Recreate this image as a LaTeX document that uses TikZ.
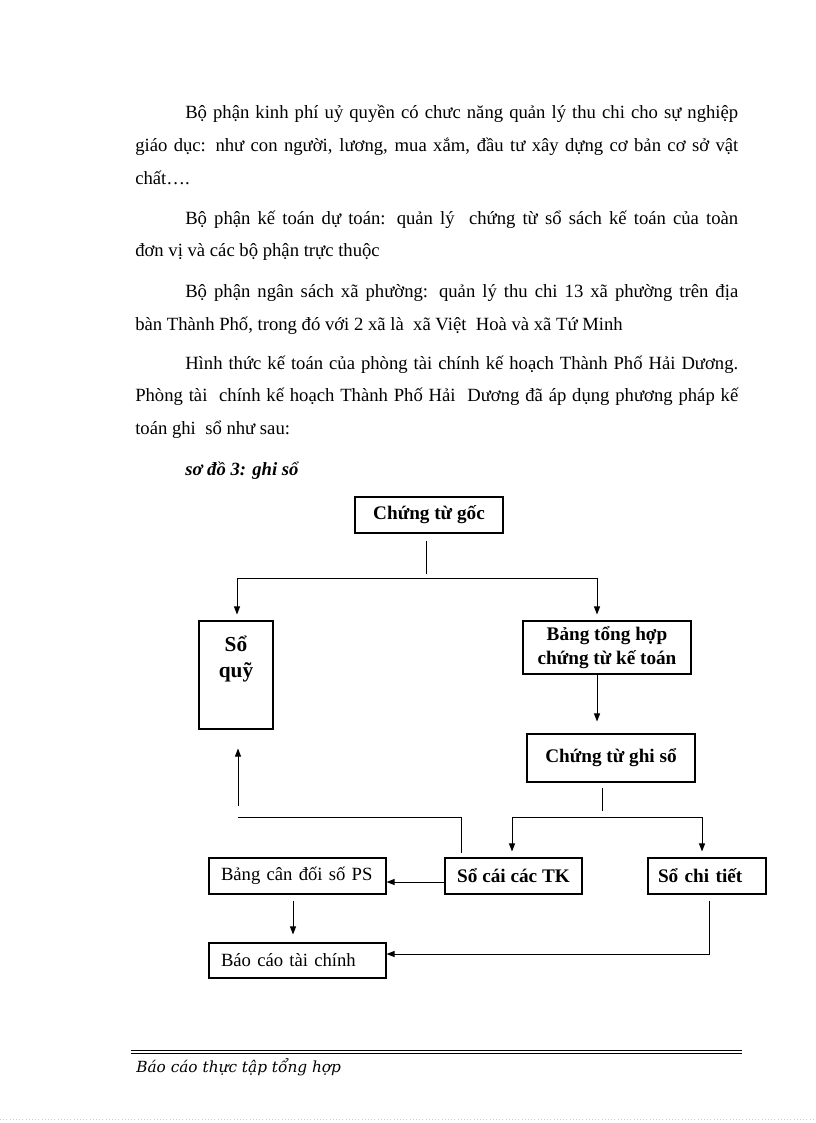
\documentclass[tikz,border=0pt]{standalone}
\usepackage{fontspec}
\setmainfont{Liberation Serif}
\newfontfamily\footfont{DejaVu Serif}
\usetikzlibrary{arrows.meta,calc}
\begin{document}
\begin{tikzpicture}[x=0.75pt,y=-0.75pt,
  box/.style={draw, line width=0.8pt, inner sep=0pt, font=\bfseries\fontsize{14.4}{18}\selectfont, align=center},
  lbox/.style={box, align=left, inner xsep=9pt, text width=114.75pt, font=\fontsize{14}{18}\selectfont},
  body/.style={anchor=base west, inner sep=0pt, font=\fontsize{14}{16}\selectfont},
  conn/.style={line width=0.75pt},
  arr/.style={conn, -{Triangle[length=6pt,width=4.5pt]}}
]
\useasboundingbox (0,0) rectangle (816,1123);
\fill[white] (0,0) rectangle (816,1123);

% body text
\node[body] (p1a) at (185,119) {\makebox[414.75pt][s]{Bộ phận kinh phí uỷ quyền có chưc năng quản lý thu chi cho sự nghiệp}};
\node[body] (p1b) at (135,152) {\makebox[452.25pt][s]{giáo dục: như con người, lương, mua xắm, đầu tư xây dựng cơ bản cơ sở vật}};
\node[body] (p1c) at (135,185) {chất….};
\node[body] (p2a) at (185,224) {\makebox[414.75pt][s]{Bộ phận kế toán dự toán: quản lý \ chứng từ sổ sách kế toán của toàn}};
\node[body] (p2b) at (135,256) {đơn vị và các bộ phận trực thuộc};
\node[body] (p3a) at (185,297) {\makebox[414.75pt][s]{Bộ phận ngân sách xã phường: quản lý thu chi 13 xã phường trên địa}};
\node[body] (p3b) at (135,330) {bàn Thành Phố, trong đó với 2 xã là \ xã Việt \ Hoà và xã Tứ Minh};
\node[body] (p4a) at (185,369) {\makebox[414.75pt][s]{Hình thức kế toán của phòng tài chính kế hoạch Thành Phố Hải Dương.}};
\node[body] (p4b) at (135,401) {\makebox[452.25pt][s]{Phòng tài \ chính kế hoạch Thành Phố Hải \ Dương đã áp dụng phương pháp kế}};
\node[body] (p4c) at (135,434) {toán ghi \ sổ như sau:};
\node[body, font=\bfseries\itshape\fontsize{14}{16}\selectfont] (cap) at (185,475) {sơ đồ 3: ghi sổ};

% boxes
\node[box, minimum width=111pt, minimum height=27pt] (goc) at (429,515) {Chứng từ gốc};
\node[box, minimum width=55.5pt, minimum height=81pt] (quy) at (236,675) {};
\node[inner sep=0pt, align=center, font=\bfseries\fontsize{16}{20}\selectfont] (quyt) at (236,659) {Sổ\\quỹ};
\node[box, minimum width=126pt, minimum height=39.75pt] (tonghop) at (607,647.5) {Bảng tổng hợp\\chứng từ kế toán};
\node[box, minimum width=126pt, minimum height=36pt] (ghiso) at (611,758) {Chứng từ ghi sổ};
\node[box, minimum width=102.75pt, minimum height=27pt] (socai) at (513.5,876) {Sổ cái các TK};
\node[box, align=left, inner xsep=7.5pt, text width=73.5pt, minimum height=27pt] (chitiet) at (707,876) {Sổ chi tiết};
\node[lbox, minimum height=27pt] (cando) at (297.5,876) {Bảng cân đối số PS};
\node[lbox, minimum height=26.25pt] (baocao) at (297.5,960.5) {Báo cáo tài chính};

% connectors
\coordinate (g1) at (426,541);
\coordinate (g2) at (426,574);
\coordinate (hL) at (237,578);
\coordinate (hR) at (597,578);
\draw[conn] (g1) -- (g2);
\draw[conn] (hL) -- (hR);
\draw[arr, shorten >=4.5pt] (hL) -- (hL |- quy.north);
\draw[arr, shorten >=4.5pt] (hR) -- (hR |- tonghop.north);
\draw[arr, shorten >=9pt] (hR |- tonghop.south) -- (hR |- ghiso.north);

\coordinate (s1) at (602,788);
\coordinate (s2) at (602,811);
\coordinate (bL) at (512,817);
\coordinate (bR) at (702,817);
\draw[conn] (s1) -- (s2);
\draw[conn] (bL) -- (bR);
\draw[arr, shorten >=4.5pt] (bL) -- (bL |- socai.north);
\draw[arr, shorten >=4.5pt] (bR) -- (bR |- chitiet.north);

\coordinate (k1) at (461,817);
\coordinate (k2) at (238,817);
\coordinate (k3) at (238,806);
\draw[conn, shorten <=3pt] (k1 |- socai.north) -- (k1) -- (k2);
\draw[arr, shorten >=14.25pt] (k3) -- (k3 |- quy.south);

\draw[arr] ([yshift=-4.5pt]socai.west) -- ([yshift=-4.5pt]cando.east);

\coordinate (d) at (293,876);
\draw[arr, shorten <=4.5pt, shorten >=6pt] (d |- cando.south) -- (d |- baocao.north);

\coordinate (m) at (709,954);
\draw[arr, shorten <=4.5pt] (m |- chitiet.south) -- (m) -- (m -| baocao.east);

% footer
\draw[line width=0.75pt] (131,1050) -- (742,1050);
\draw[line width=0.75pt] (131,1053.5) -- (742,1053.5);
\node[anchor=base west, inner sep=0pt, font=\footfont\itshape\fontsize{11.5}{14}\selectfont] (foot) at (136,1072) {Báo cáo thực tập tổng hợp};
\draw[gray!40, dotted] (0,1119) -- (816,1119);
\end{tikzpicture}
\end{document}
